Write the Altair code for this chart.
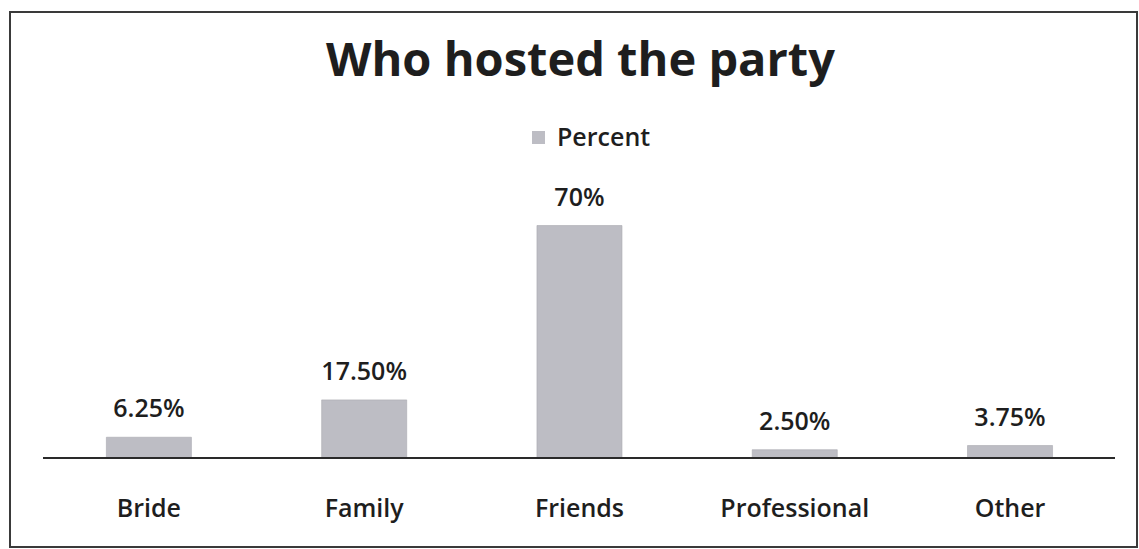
import altair as alt
import pandas as pd

categories = ["Bride", "Family", "Friends", "Professional", "Other"]
percent = [6.25, 17.5, 70.0, 2.5, 3.75]
value_labels = ["6.25%", "17.50%", "70%", "2.50%", "3.75%"]
series = "Percent"

df = pd.DataFrame({
    "host": categories,
    "pct": percent,
    "label": value_labels,
    "series": [series] * len(categories),
})

FONT = "Open Sans"
BAR = "#bdbdc4"
TXT = "#1e1e1e"
FS = 25

x = alt.X(
    "host:N",
    sort=categories,
    title=None,
    scale=alt.Scale(paddingInner=0.605, paddingOuter=0.42, align=0.533),
    axis=alt.Axis(
        orient="bottom",
        offset=-89,
        domain=False,
        ticks=False,
        labelAngle=0,
        labelFont=FONT,
        labelFontSize=FS,
        labelFontWeight=600,
        labelColor=TXT,
        labelBaseline="alphabetic",
        labelPadding=58,
    ),
)
y_scale = alt.Scale(domain=[-26.8, 134.3], nice=False, zero=False)

base = alt.Chart(df)

bars = base.mark_bar(color=BAR, stroke="#a9a9b0", strokeWidth=0.6).encode(
    x=x,
    y=alt.Y("pct:Q", scale=y_scale, axis=None),
    y2=alt.datum(0),
    color=alt.Color(
        "series:N",
        scale=alt.Scale(range=[BAR]),
        legend=alt.Legend(
            title=None,
            orient="none",
            legendX=516,
            legendY=113,
            symbolType="square",
            symbolSize=169,
            symbolStrokeWidth=0,
            labelFont=FONT,
            labelFontSize=FS,
            labelFontWeight=600,
            labelColor=TXT,
            labelOffset=6,
        ),
    ),
)

texts = base.mark_text(
    font=FONT, fontSize=FS, fontWeight=600, color=TXT,
    baseline="alphabetic", dy=-20,
).encode(
    x=alt.X("host:N", sort=categories),
    y=alt.Y("pct:Q", scale=y_scale),
    text="label:N",
)

baseline = alt.Chart(pd.DataFrame({"v": [0]})).mark_rule(
    color="#2a2a2a", strokeWidth=2
).encode(
    x=alt.value(33),
    x2=alt.value(1105),
    y=alt.Y("v:Q", scale=y_scale),
)

chart = alt.layer(bars, baseline, texts).properties(
    width=1127,
    height=535,
    title=alt.TitleParams(
        "Who hosted the party",
        font=FONT,
        fontSize=47,
        fontWeight="bold",
        color=TXT,
        anchor="middle",
        dx=7,
        offset=-111,
        baseline="alphabetic",
    ),
    padding={"left": 10, "top": 12, "right": 2, "bottom": 2},
    autosize=alt.AutoSizeParams(type="none"),
).configure(background="white").configure_view(
    stroke="#3a3a3a", strokeWidth=2
)

chart.save("out.html", embed_options={"renderer": "svg", "actions": False})
